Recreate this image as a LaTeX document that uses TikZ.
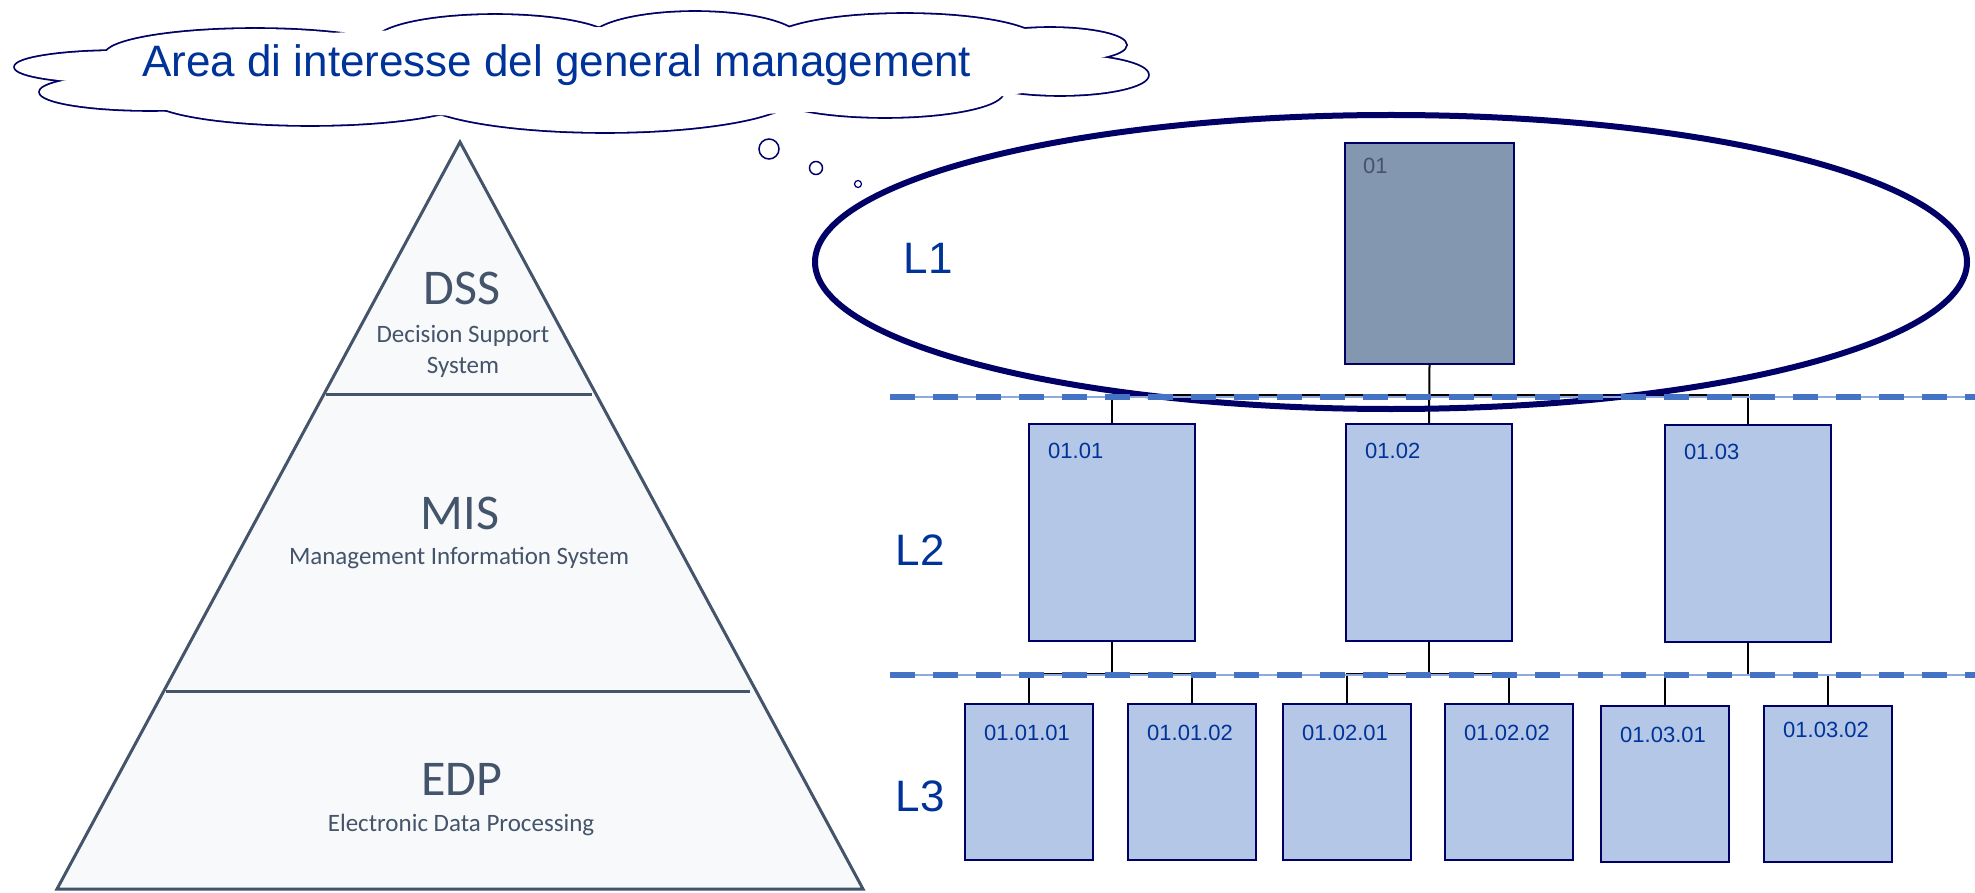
\documentclass[tikz,border=0pt]{standalone}
\usepackage{fontspec}
\setmainfont{Liberation Sans}
\newfontfamily\calibri{Carlito}
\usetikzlibrary{positioning}
\definecolor{navyline}{HTML}{000066}
\definecolor{titleblue}{HTML}{003399}
\definecolor{slatetext}{HTML}{44546A}
\definecolor{pyrfill}{HTML}{F8F9FB}
\definecolor{boxgrey}{HTML}{8497B0}
\definecolor{boxblue}{HTML}{B4C7E7}
\definecolor{dashblue}{HTML}{4472C4}
\definecolor{dashlight}{HTML}{8EAADB}

\begin{document}
\begin{tikzpicture}[x=1pt,y=-1pt,
    unitbox/.style={draw=navyline,line width=2pt,anchor=north west,inner sep=0pt},
    topbox/.style={unitbox,fill=boxgrey,minimum width=169pt,minimum height=221pt},
    midbox/.style={unitbox,fill=boxblue,minimum width=166pt,minimum height=217pt},
    lowbox/.style={unitbox,fill=boxblue,minimum width=128pt,minimum height=156pt},
    boxtag/.style={anchor=north west,inner sep=0pt,text=titleblue,font=\fontsize{22}{26}\selectfont},
    levtag/.style={anchor=base,inner sep=0pt,text=titleblue,font=\fontsize{44}{50}\selectfont},
    pyrbig/.style={anchor=base,inner sep=0pt,text=slatetext,font=\calibri\fontsize{50}{56}\selectfont},
    pyrsmall/.style={anchor=base,inner sep=0pt,text=slatetext,font=\calibri\fontsize{25}{30}\selectfont},
    link/.style={draw=black,line width=2pt},
    levsep/.style={draw=dashblue,line width=6pt,dash pattern=on 25pt off 18pt,
      preaction={draw=dashlight,line width=2pt,solid}}]
\useasboundingbox (0,0) rectangle (1975,893);

% pyramid
\filldraw[fill=pyrfill,draw=slatetext,line width=3pt,line join=miter]
  (460,142) -- (863,889) -- (57,889) -- cycle;
\draw[slatetext,line width=3pt] (326,394) -- (592,394);
\draw[slatetext,line width=3pt] (166,691) -- (750,691);
\node[pyrbig] (dss) at (462,305) {DSS};
\node[pyrsmall] (dssa) at (463,342) {Decision Support};
\node[pyrsmall] (dssb) at (463,373) {System};
\node[pyrbig] (mis) at (460,529) {MIS};
\node[pyrsmall] (misa) at (459,564) {Management Information System};
\node[pyrbig] (edp) at (462,795) {EDP};
\node[pyrsmall] (edpa) at (461,831) {Electronic Data Processing};

% cloud: outline of the puffs first, then white on top
\foreach \cx/\cy/\rx/\ry in {120/67/105/16, 150/92/110/18, 310/98/160/27, 605/95/190/37,
    885/92/118/25, 1060/75/88/20, 1050/45/76/17, 905/42/135/28, 695/40/105/28,
    495/42/120/27, 255/55/150/26}
  \draw[navyline,line width=3.6pt] (\cx,\cy) ellipse [x radius=\rx,y radius=\ry];
\foreach \cx/\cy/\rx/\ry in {120/67/105/16, 150/92/110/18, 310/98/160/27, 605/95/190/37,
    885/92/118/25, 1060/75/88/20, 1050/45/76/17, 905/42/135/28, 695/40/105/28,
    495/42/120/27, 255/55/150/26, 580/72/500/45}
  \fill[white] (\cx,\cy) ellipse [x radius=\rx,y radius=\ry];
\node[anchor=base west,inner sep=0pt,text=titleblue,font=\fontsize{44}{50}\selectfont]
  (cloudtxt) at (142,77) {Area di interesse del general management};
\filldraw[fill=white,draw=navyline,line width=1.5pt] (769,149) circle[radius=10];
\filldraw[fill=white,draw=navyline,line width=1.5pt] (816,168) circle[radius=6.5];
\filldraw[fill=white,draw=navyline,line width=1.2pt] (858,184) circle[radius=3.5];

% level labels
\node[levtag] (lone) at (928,274) {L1};
\node[levtag] (ltwo) at (920,565) {L2};
\node[levtag] (lthree) at (920,811) {L3};

% boxes
\node[topbox] (n01) at (1344,142) {};
\node[midbox] (n0101) at (1028,423) {};
\node[midbox] (n0102) at (1345,423) {};
\node[midbox] (n0103) at (1664,424) {};
\node[lowbox] (n010101) at (964,703) {};
\node[lowbox] (n010102) at (1127,703) {};
\node[lowbox] (n010201) at (1282,703) {};
\node[lowbox] (n010202) at (1444,703) {};
\node[lowbox] (n010301) at (1600,705) {};
\node[lowbox] (n010302) at (1763,705) {};

% connectors
\draw[link] (n01.south) -- (n0102.north);
\draw[link] (n0101.north) |- ([yshift=-30pt]n01.south) -| (n0103.north);
\draw[link] (n0101.south) -- ([yshift=-32pt]n0101.south);
\draw[link] (n010101.north) |- ([yshift=-32pt]n0101.south) -| (n010102.north);
\draw[link] (n0102.south) -- ([yshift=-32pt]n0102.south);
\draw[link] (n010201.north) |- ([yshift=-32pt]n0102.south) -| (n010202.north);
\draw[link] (n0103.south) -- ([yshift=-32pt]n0103.south);
\draw[link] (n010301.north) |- ([yshift=-32pt]n0103.south) -| (n010302.north);

% area of the general management
\draw[navyline,line width=6pt] (1391,262) ellipse [x radius=576,y radius=147];

% level separators
\draw[levsep] (890,397) -- (1975,397);
\draw[levsep] (890,675) -- (1975,675);

% box codes
\node[boxtag,text=slatetext] (t01) at ([shift={(19,16)}]n01.north west) {01};
\node[boxtag] (t0101) at ([shift={(20,20)}]n0101.north west) {01.01};
\node[boxtag] (t0102) at ([shift={(20,20)}]n0102.north west) {01.02};
\node[boxtag] (t0103) at ([shift={(20,20)}]n0103.north west) {01.03};
\node[boxtag] (t010101) at ([shift={(20,22)}]n010101.north west) {01.01.01};
\node[boxtag] (t010102) at ([shift={(20,22)}]n010102.north west) {01.01.02};
\node[boxtag] (t010201) at ([shift={(20,22)}]n010201.north west) {01.02.01};
\node[boxtag] (t010202) at ([shift={(20,22)}]n010202.north west) {01.02.02};
\node[boxtag] (t010301) at ([shift={(20,22)}]n010301.north west) {01.03.01};
\node[boxtag] (t010302) at ([shift={(20,17)}]n010302.north west) {01.03.02};
\end{tikzpicture}
\end{document}
